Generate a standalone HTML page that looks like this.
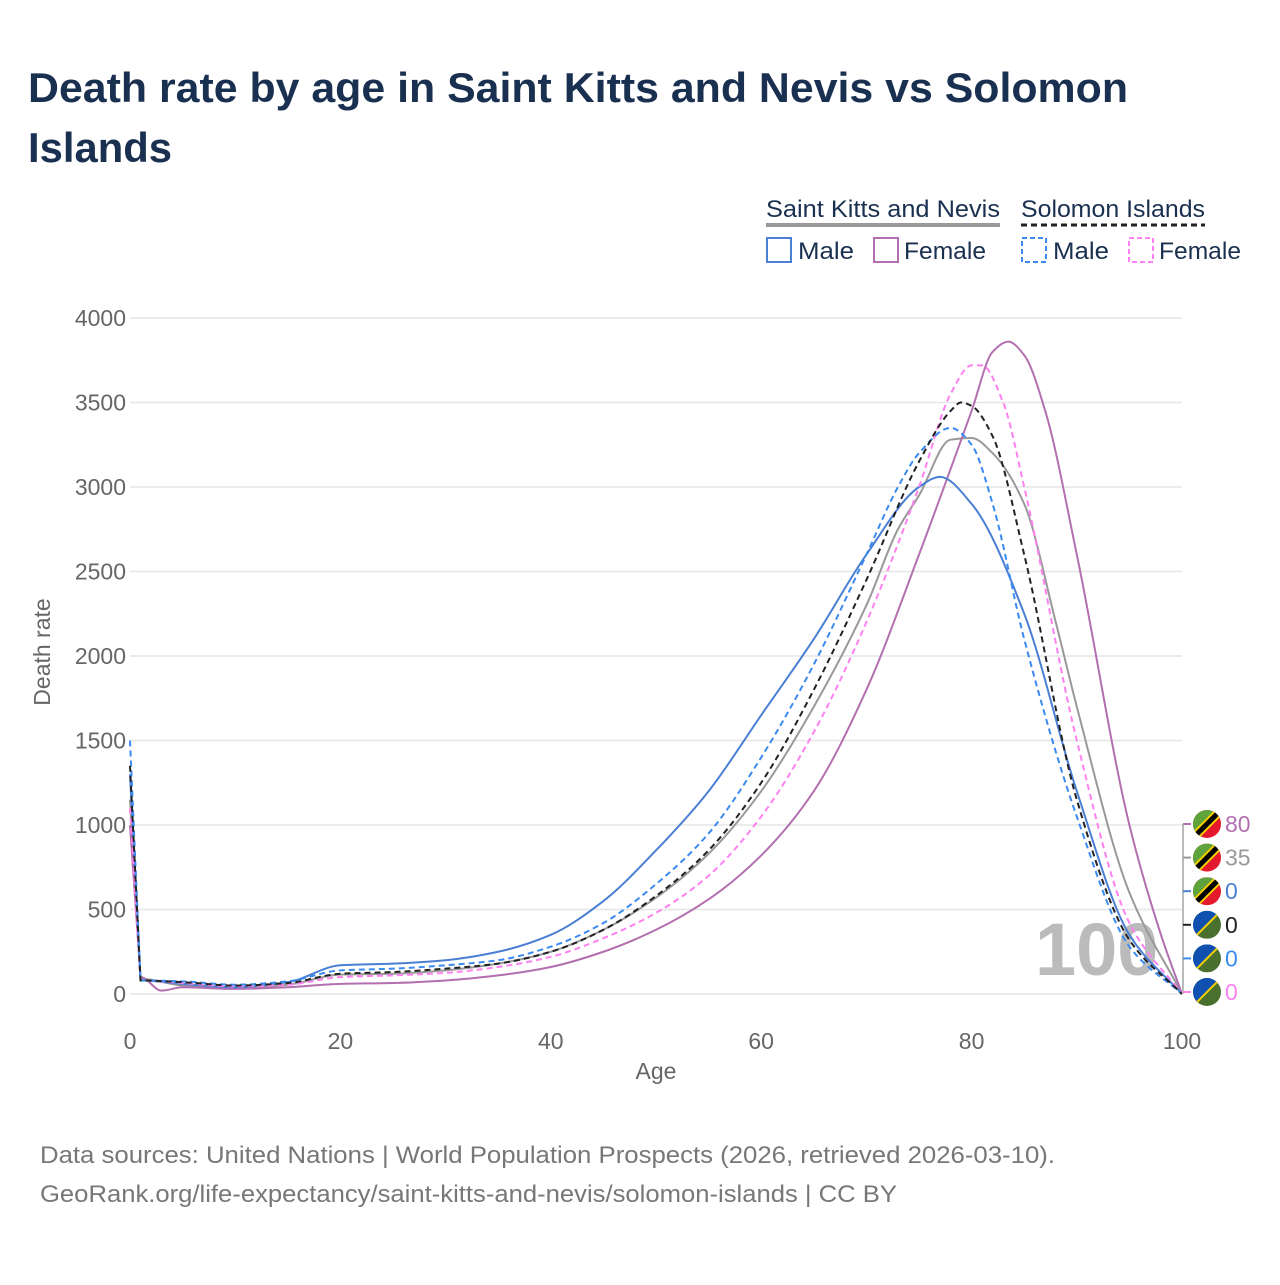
<!DOCTYPE html>
<html><head><meta charset="utf-8"><style>
body{margin:0;background:#fff;font-family:"Liberation Sans",sans-serif}
svg text{font-family:"Liberation Sans",sans-serif}
</style></head><body>
<svg id="c" width="1280" height="1280" viewBox="0 0 1280 1280">
<defs><clipPath id="fc"><circle cx="0" cy="0" r="14"/></clipPath></defs>
<text x="28" y="102" font-size="42" font-weight="bold" fill="#1a3050" textLength="1100" lengthAdjust="spacingAndGlyphs">Death rate by age in Saint Kitts and Nevis vs Solomon</text>
<text x="28" y="162" font-size="42" font-weight="bold" fill="#1a3050" textLength="144" lengthAdjust="spacingAndGlyphs">Islands</text>
<g>
<text x="766" y="217" font-size="24" fill="#1a3050" textLength="234" lengthAdjust="spacingAndGlyphs">Saint Kitts and Nevis</text>
<line x1="766" y1="225" x2="1000" y2="225" stroke="#999" stroke-width="4"/>
<text x="1021" y="217" font-size="24" fill="#1a3050" textLength="184" lengthAdjust="spacingAndGlyphs">Solomon Islands</text>
<line x1="1021" y1="225" x2="1205" y2="225" stroke="#222" stroke-width="3" stroke-dasharray="6,4"/>
<rect x="767" y="238" width="24" height="24" fill="none" stroke="#4a7fd4" stroke-width="2"/>
<text x="798" y="259" font-size="24" fill="#1a3050" textLength="56" lengthAdjust="spacingAndGlyphs">Male</text>
<rect x="874" y="238" width="24" height="24" fill="none" stroke="#b36fb0" stroke-width="2"/>
<text x="904" y="259" font-size="24" fill="#1a3050" textLength="82" lengthAdjust="spacingAndGlyphs">Female</text>
<rect x="1022" y="238" width="24" height="24" fill="none" stroke="#3a8af0" stroke-width="2" stroke-dasharray="5,3"/>
<text x="1053" y="259" font-size="24" fill="#1a3050" textLength="56" lengthAdjust="spacingAndGlyphs">Male</text>
<rect x="1129" y="238" width="24" height="24" fill="none" stroke="#ff80f0" stroke-width="2" stroke-dasharray="5,3"/>
<text x="1159" y="259" font-size="24" fill="#1a3050" textLength="82" lengthAdjust="spacingAndGlyphs">Female</text>
</g>
<g id="grid"></g>
<text x="1035" y="975" font-size="74" font-weight="bold" fill="#bbb">100</text>
<g id="lines"></g>
<g id="endlabels"></g>
<text x="656" y="1079" font-size="23" fill="#666" text-anchor="middle">Age</text>
<text transform="translate(50,652) rotate(-90)" font-size="23" fill="#666" text-anchor="middle">Death rate</text>
<text x="40" y="1163" font-size="24" fill="#777" textLength="1015" lengthAdjust="spacingAndGlyphs">Data sources: United Nations | World Population Prospects (2026, retrieved 2026-03-10).</text>
<text x="40" y="1202" font-size="24" fill="#777" textLength="857" lengthAdjust="spacingAndGlyphs">GeoRank.org/life-expectancy/saint-kitts-and-nevis/solomon-islands | CC BY</text>
</svg>
<script>
const yTicks=[0,500,1000,1500,2000,2500,3000,3500,4000];
const xTicks=[0,20,40,60,80,100];
const sknMaleAges=[0,1,5,10,15,20,25,30,35,40,45,50,55,60,65,70,75,77,80,85,90,95,100];
const sknMale=[1300,80,60,40,70,170,180,200,250,350,550,850,1200,1650,2100,2600,3000,3060,2900,2250,1200,350,0];
const sknFemaleAges=[0,1,3,5,10,15,20,25,30,35,40,45,50,55,60,65,70,75,80,82,83.5,85,87,90,95,98,100];
const sknFemale=[1000,100,20,40,30,40,60,65,80,110,160,250,380,560,820,1200,1800,2600,3450,3800,3860,3780,3450,2600,1000,350,0];
const sknTotalAges=[0,1,5,10,15,20,25,30,35,40,45,50,55,60,65,70,73,75,78,80,82,85,88,90,95,100];
const sknTotal=[1150,90,50,35,55,115,120,140,180,250,380,570,830,1200,1700,2300,2750,2950,3280,3290,3200,2900,2200,1700,600,0];
const siMaleAges=[0,1,5,10,15,20,25,30,35,40,45,50,55,60,65,70,73,75,78,80,82,85,90,95,100];
const siMale=[1500,80,75,55,75,140,150,170,200,280,420,650,950,1400,1950,2600,3000,3200,3350,3250,2900,2100,1050,280,0];
const siTotalAges=[0,1,5,10,15,20,25,30,35,40,45,50,55,60,65,70,75,78,79,80,82,85,90,95,100];
const siTotal=[1350,80,70,50,65,120,130,150,180,250,380,580,850,1250,1800,2450,3150,3450,3500,3480,3300,2600,1150,320,0];
const siFemaleAges=[0,1,5,10,15,20,25,30,35,40,45,50,55,60,65,70,75,78,80,81,83,85,90,95,100];
const siFemale=[1100,80,65,45,55,100,110,125,160,220,330,480,700,1050,1550,2200,3000,3550,3720,3720,3500,3000,1500,420,0];
const endLabels=["80","35","0","0","0","0"];
const NS="http://www.w3.org/2000/svg";
const X=a=>130+a*10.52, Y=v=>994-v*0.169;
function mk(t,at,p){const e=document.createElementNS(NS,t);for(const k in at)e.setAttribute(k,at[k]);p.appendChild(e);return e;}
const grid=document.getElementById('grid');
yTicks.forEach(v=>{
 const l=mk('line',{x1:130,x2:1182,y1:Y(v),y2:Y(v),stroke:'#e6e6e6','stroke-width':1.5},grid);
 
 
 const t=mk('text',{x:126,y:Y(v)+8,'font-size':23,fill:'#666','text-anchor':'end'},grid);t.textContent=v;
 
 
});
xTicks.forEach(a=>{
 const t=mk('text',{x:X(a),y:1049,'font-size':23,fill:'#666','text-anchor':'middle'},grid);t.textContent=a;
 
 
});
function path(ages,vals){
 const x=ages.map(X),y=vals.map(Y),n=x.length;
 const d=[],m=new Array(n);
 for(let i=0;i<n-1;i++)d.push((y[i+1]-y[i])/(x[i+1]-x[i]));
 m[0]=d[0];m[n-1]=d[n-2];
 for(let i=1;i<n-1;i++){
  if(d[i-1]*d[i]<=0)m[i]=0;
  else{const h0=x[i]-x[i-1],h1=x[i+1]-x[i];const w1=2*h1+h0,w2=h1+2*h0;m[i]=(w1+w2)/(w1/d[i-1]+w2/d[i]);}
 }
 m[0]=0;m[1]=0;
 let s='M'+x[0]+','+y[0];
 for(let i=0;i<n-1;i++){
  const h=(x[i+1]-x[i])/3;
  if(i===0){s+='L'+x[1]+','+y[1];continue;}
  s+=`C${x[i]+h},${y[i]+m[i]*h} ${x[i+1]-h},${y[i+1]-m[i+1]*h} ${x[i+1]},${y[i+1]}`;
 }return s;}
const lines=document.getElementById('lines');
const series=[
 [sknTotalAges,sknTotal,'#999',null,'line-skn-total'],
 [sknFemaleAges,sknFemale,'#b36fb0',null,'line-skn-female'],
 [sknMaleAges,sknMale,'#4a7fd4',null,'line-skn-male'],
 [siFemaleAges,siFemale,'#ff80f0','6,4','line-si-female'],
 [siMaleAges,siMale,'#3a8af0','6,4','line-si-male'],
 [siTotalAges,siTotal,'#222','6,4','line-si-total']];
series.forEach(s=>{
 const e=mk('path',{d:path(s[0],s[1]),fill:'none',stroke:s[2],'stroke-width':2},lines);
 if(s[3])e.setAttribute('stroke-dasharray',s[3]);
 
 
});
const el=document.getElementById('endlabels');
const cols=['#b36fb0','#999','#4a7fd4','#222','#3a8af0','#ff80f0'];
mk('line',{x1:1183,x2:1183,y1:824,y2:994,stroke:'#bbb','stroke-width':2},el);
cols.forEach((c,i)=>{
 const y=824+i*33.6;
 mk('line',{x1:1183,x2:1191,y1:y,y2:y,stroke:c,'stroke-width':2},el);
 const g=mk('g',{transform:`translate(1207,${y})`,'clip-path':'url(#fc)'},el);
 
 
 if(i<3){
  mk('rect',{x:-14,y:-14,width:28,height:28,fill:'#e4192b'},g);
  mk('path',{d:'M-14,14L-14,-14L14,-14Z',fill:'#5fa33c'},g);
  mk('line',{x1:-16,y1:16,x2:16,y2:-16,stroke:'#f5d000','stroke-width':9},g);
  mk('line',{x1:-16,y1:16,x2:16,y2:-16,stroke:'#000','stroke-width':5},g);
 } else {
  mk('rect',{x:-14,y:-14,width:28,height:28,fill:'#4a7030'},g);
  mk('path',{d:'M-14,14L-14,-14L14,-14Z',fill:'#1050b0'},g);
  mk('line',{x1:-16,y1:16,x2:16,y2:-16,stroke:'#f5d000','stroke-width':2},g);
 }
 const t=mk('text',{x:1225,y:y+8,'font-size':23,fill:c},el);t.textContent=endLabels[i];
 
 
});
</script>
</body></html>
